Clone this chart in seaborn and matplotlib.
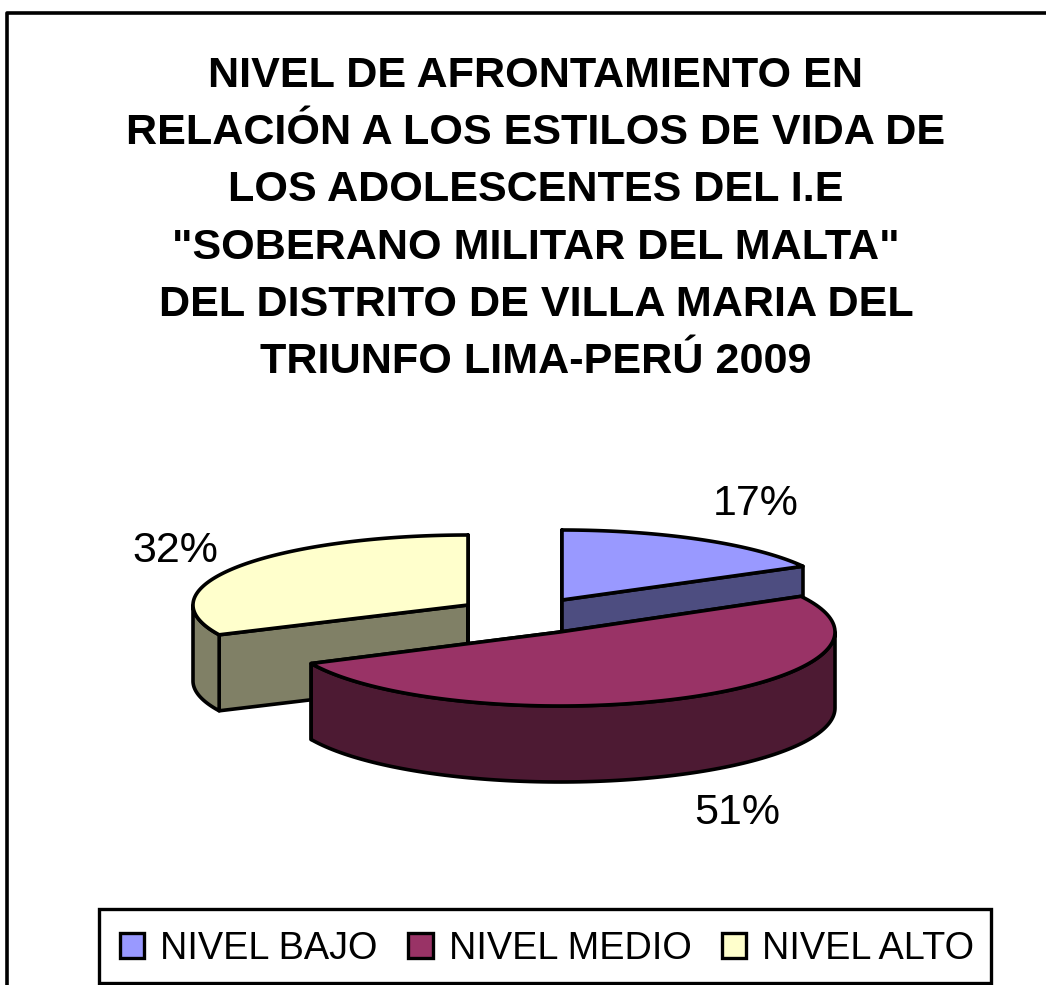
import numpy as np
import seaborn as sns
import matplotlib.pyplot as plt
from matplotlib.patches import Patch, Polygon, Rectangle

title = ('NIVEL DE AFRONTAMIENTO EN\n'
         'RELACIÓN A LOS ESTILOS DE VIDA DE\n'
         'LOS ADOLESCENTES DEL I.E\n'
         '"SOBERANO MILITAR DEL MALTA"\n'
         'DEL DISTRITO DE VILLA MARIA DEL\n'
         'TRIUNFO LIMA-PERÚ 2009')
levels = ['NIVEL BAJO', 'NIVEL MEDIO', 'NIVEL ALTO']
percent = [17, 51, 32]
top_colors = ['#9999FF', '#993366', '#FFFFCC']
side_colors = ['#4D4D80', '#4D1A33', '#808066']

sns.set_style('white')
plt.rcParams['font.family'] = ['Liberation Sans', 'DejaVu Sans']

RX, RY, DEPTH = 275, 70, 76


def ring(cx, cy, a0, a1, ry=RY):
    # angles clockwise from 12 o'clock, y axis points down
    t = np.radians(np.linspace(a0, a1, 120))
    return np.column_stack([cx + RX * np.sin(t), cy - ry * np.cos(t)])


def draw_slice(ax, cx, cy, a0, a1, top, side, ry=RY):
    kw = dict(edgecolor='black', linewidth=2.6, joinstyle='round')
    apex = np.array([cx, cy])
    down = np.array([0, DEPTH])
    p0 = ring(cx, cy, a0, a0, ry)[0]
    p1 = ring(cx, cy, a1, a1, ry)[0]
    # cut faces
    ax.add_patch(Polygon([apex, p0, p0 + down, apex + down], facecolor=side, **kw))
    ax.add_patch(Polygon([apex, p1, p1 + down, apex + down], facecolor=side, **kw))
    # outer wall, only the part facing the viewer
    lo, hi = max(a0, 90), min(a1, 270)
    if lo < hi:
        edge = ring(cx, cy, lo, hi, ry)
        ax.add_patch(Polygon(np.vstack([edge, edge[::-1] + down]), facecolor=side, **kw))
    ax.add_patch(Polygon(np.vstack([apex, ring(cx, cy, a0, a1, ry)]), facecolor=top, **kw))


fig, ax = plt.subplots(figsize=(10.46, 9.85), dpi=100)
fig.subplots_adjust(left=0, right=1, bottom=0, top=1)
ax.set_xlim(0, 1046)
ax.set_ylim(985, 0)
ax.axis('off')

# chart frame, cut by the image on the right and at the bottom
ax.plot([7, 7, 1046], [985, 13, 13], color='black', lw=2.6)

ax.text(536, 219, title, ha='center', va='center', fontsize=31.1, fontweight='bold',
        color='black', linespacing=1.55)

edges = np.cumsum([0] + percent) * 3.6
centers = [(562, 600), (560, 632), (468, 605)]
for i in [0, 2, 1]:
    draw_slice(ax, centers[i][0], centers[i][1], edges[i], edges[i + 1],
               top_colors[i], side_colors[i], ry=74 if i == 1 else RY)

label_xy = [(756, 504), (737, 813), (175, 551)]
for v, (x, y) in zip(percent, label_xy):
    ax.text(x, y, f'{v}%', ha='center', va='center', fontsize=31, color='black')

# legend box is not symmetric round its entries, so it is drawn apart
ax.add_patch(Rectangle((99, 909), 892, 74, facecolor='white', edgecolor='black', linewidth=2.4))
handles = [Patch(facecolor=c, edgecolor='black', linewidth=2.4) for c in top_colors]
ax.legend(handles, levels, ncol=3, loc='center', fontsize=27.3, labelcolor='black',
          bbox_to_anchor=(547 / 1046, 1 - 949 / 985), bbox_transform=ax.transAxes,
          frameon=False, handlelength=0.65, handleheight=0.65, handletextpad=0.42,
          columnspacing=0.8, borderpad=0.49, borderaxespad=0)

fig.savefig('out.png', dpi=100)
